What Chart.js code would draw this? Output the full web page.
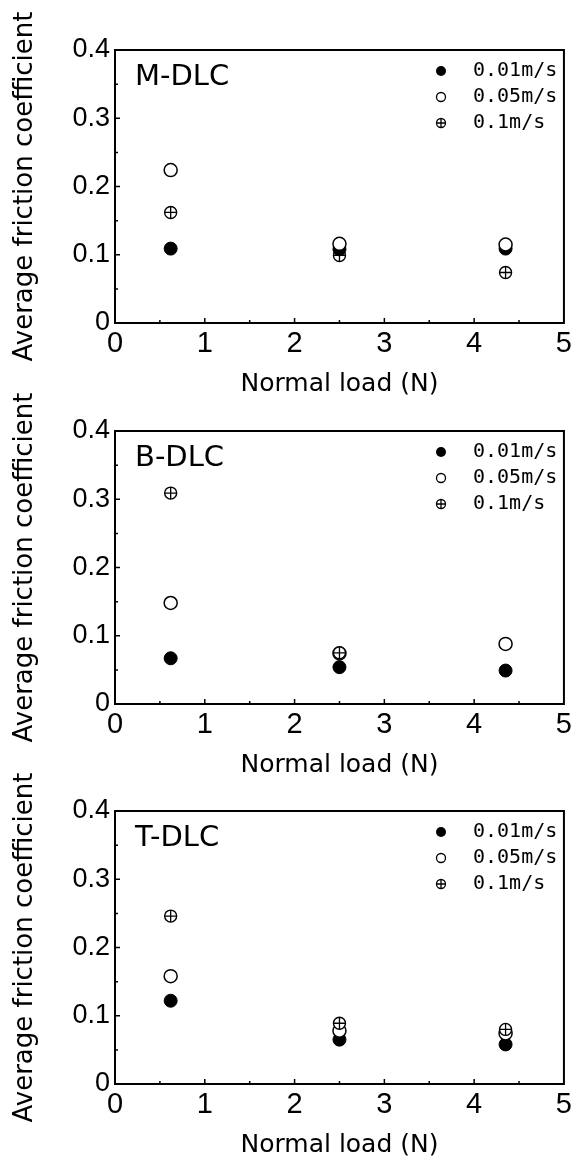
<!DOCTYPE html>
<html>
<head>
<meta charset="utf-8">
<script src="https://cdn.jsdelivr.net/npm/chart.js@4/dist/chart.umd.min.js"></script>
<style>
  body { margin: 0; background: #fff; width: 576px; height: 1157px; position: relative; overflow: hidden; }
  canvas { position: absolute; left: 0; }
</style>
</head>
<body>
<canvas id="mdlc" width="576" height="396" style="top:0px"></canvas>
<canvas id="bdlc" width="576" height="396" style="top:381px"></canvas>
<canvas id="tdlc" width="576" height="396" style="top:761px"></canvas>
<script>
// normal load (N) used in every test
const loads = [0.62, 2.5, 4.35];
const speeds = ['0.01m/s', '0.05m/s', '0.1m/s'];

// average friction coefficient per coating / sliding speed
const mDlc001 = [0.109, 0.108, 0.109];
const mDlc005 = [0.224, 0.116, 0.115];
const mDlc01 = [0.162, 0.099, 0.074];

const bDlc001 = [0.067, 0.054, 0.049];
const bDlc005 = [0.148, 0.074, 0.088];
const bDlc01 = [0.309, 0.075, null];

const tDlc001 = [0.122, 0.065, 0.058];
const tDlc005 = [0.158, 0.078, 0.074];
const tDlc01 = [0.246, 0.089, 0.080];

const xTicks = [0, 1, 2, 3, 4, 5];
const yTicks = [0, 0.1, 0.2, 0.3, 0.4];

const pts = arr => arr.map((v, i) => ({ x: loads[i], y: v }));

// box, inward ticks, coating name and the little legend
const framePlugin = {
  id: 'frame',
  afterDraw(chart, args, opts) {
    const { ctx, chartArea: a, scales: { x, y } } = chart;
    ctx.save();
    ctx.strokeStyle = '#000';
    ctx.lineWidth = 2;
    ctx.strokeRect(a.left, a.top, a.right - a.left, a.bottom - a.top);
    ctx.lineWidth = 1.5;
    ctx.beginPath();
    for (let i = 1; i < 10; i++) {
      const px = x.getPixelForValue(i * 0.5);
      ctx.moveTo(px, a.bottom);
      ctx.lineTo(px, a.bottom - (i % 2 === 0 ? 5 : 3));
    }
    for (let i = 1; i < 8; i++) {
      const py = y.getPixelForValue(i * 0.05);
      ctx.moveTo(a.left, py);
      ctx.lineTo(a.left + (i % 2 === 0 ? 5 : 3), py);
    }
    ctx.stroke();

    ctx.fillStyle = '#000';
    ctx.font = '29px "DejaVu Sans"';
    ctx.textBaseline = 'alphabetic';
    ctx.fillText(opts.name, a.left + 20, a.top + 35);

    // legend
    ctx.font = '20px "DejaVu Sans Mono"';
    ctx.textBaseline = 'middle';
    const mx = a.left + 326;
    speeds.forEach((s, i) => {
      const my = a.top + 21 + i * 26;
      ctx.lineWidth = 1.3;
      if (i === 0) {
        ctx.beginPath(); ctx.arc(mx, my, 5, 0, Math.PI * 2); ctx.fill();
      } else {
        const r = 4.5;
        ctx.beginPath(); ctx.arc(mx, my, r, 0, Math.PI * 2); ctx.stroke();
        if (i === 2) {
          ctx.beginPath();
          ctx.moveTo(mx - r, my); ctx.lineTo(mx + r, my);
          ctx.moveTo(mx, my - r); ctx.lineTo(mx, my + r);
          ctx.stroke();
        }
      }
      ctx.fillText(s, a.left + 358, my);
    });
    ctx.restore();
  }
};

function makeChart(id, name, slow, mid, fast, crossOnTop) {
  const base = { pointRadius: 6.5, pointHoverRadius: 6.5, borderColor: '#000' };
  const fastOrder = crossOnTop ? 0 : 2;
  new Chart(document.getElementById(id), {
    type: 'scatter',
    data: {
      datasets: [
        {
          ...base, label: speeds[0], data: pts(slow),
          pointStyle: 'circle', backgroundColor: '#000', borderWidth: 1,
          order: crossOnTop ? 2 : 1
        },
        {
          ...base, label: speeds[1], data: pts(mid),
          pointStyle: 'circle', backgroundColor: '#fff', borderWidth: 1.5,
          order: crossOnTop ? 1 : 0
        },
        // 0.1m/s: white circle with a plus drawn over it
        {
          ...base, label: speeds[2], data: pts(fast), pointRadius: 6, pointHoverRadius: 6,
          pointStyle: 'circle', backgroundColor: '#fff', borderWidth: 1.4,
          order: fastOrder + 0.1
        },
        {
          ...base, label: speeds[2], data: pts(fast), pointRadius: 6, pointHoverRadius: 6,
          pointStyle: 'cross', borderWidth: 1.3,
          order: fastOrder
        }
      ]
    },
    options: {
      responsive: false,
      animation: false,
      devicePixelRatio: 1,
      layout: { padding: { top: 50, right: 8, left: 0, bottom: 0 } },
      plugins: {
        legend: { display: false },
        tooltip: { enabled: false },
        frame: { name: name }
      },
      scales: {
        x: {
          type: 'linear', min: xTicks[0], max: xTicks[xTicks.length - 1],
          grid: { display: false, drawTicks: false },
          border: { display: false },
          ticks: {
            stepSize: 1, padding: 4, color: '#000',
            font: { family: '"Liberation Sans", Arial', size: 29 }
          },
          title: {
            display: true, text: 'Normal load (N)', color: '#000',
            font: { family: '"DejaVu Sans"', size: 25, lineHeight: 1 },
            padding: { top: 0, bottom: -1 }
          },
          afterFit: s => { s.height = 73; }
        },
        y: {
          type: 'linear', min: yTicks[0], max: yTicks[yTicks.length - 1],
          grid: { display: false, drawTicks: false },
          border: { display: false },
          ticks: {
            stepSize: 0.1, padding: 5, color: '#000',
            font: { family: '"Liberation Sans", Arial', size: 27 },
            callback: v => (v === 0 ? '0' : v.toFixed(1))
          },
          title: {
            display: true, text: 'Average friction coefficient', color: '#000',
            font: { family: '"DejaVu Sans"', size: 26 },
            padding: { top: 10, bottom: 0 }
          },
          afterFit: s => { s.width = 115; }
        }
      }
    },
    plugins: [framePlugin]
  });
}

makeChart('mdlc', 'M-DLC', mDlc001, mDlc005, mDlc01, false);
makeChart('bdlc', 'B-DLC', bDlc001, bDlc005, bDlc01, true);
makeChart('tdlc', 'T-DLC', tDlc001, tDlc005, tDlc01, true);
</script>
</body>
</html>
